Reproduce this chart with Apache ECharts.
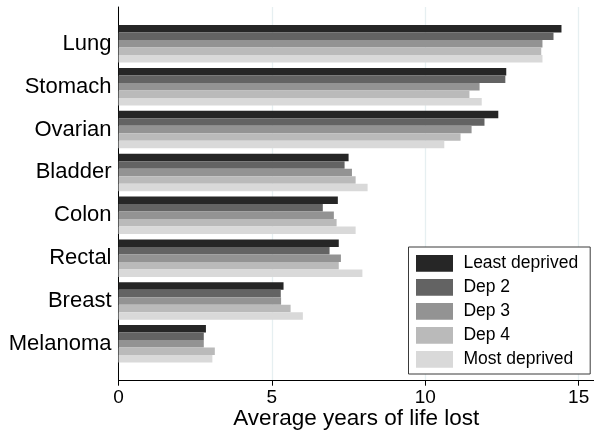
<!DOCTYPE html>
<html>
<head>
<meta charset="utf-8">
<script src="https://cdn.jsdelivr.net/npm/echarts@6/dist/echarts.min.js"></script>
<style>
  html, body { margin: 0; padding: 0; background: #fff; }
  #chart { width: 594px; height: 432px; }
</style>
</head>
<body>
<div id="chart"></div>
<script>
// Cancer sites, top to bottom
const categories = ['Lung', 'Stomach', 'Ovarian', 'Bladder', 'Colon', 'Rectal', 'Breast', 'Melanoma'];

// Average years of life lost by deprivation group
const leastDeprived = [14.44, 12.64, 12.38, 7.50, 7.15, 7.18, 5.38, 2.85];
const dep2          = [14.18, 12.61, 11.93, 7.37, 6.66, 6.88, 5.29, 2.78];
const dep3          = [13.82, 11.77, 11.51, 7.61, 7.02, 7.25, 5.30, 2.78];
const dep4          = [13.78, 11.44, 11.15, 7.73, 7.11, 7.18, 5.61, 3.14];
const mostDeprived  = [13.82, 11.84, 10.62, 8.12, 7.73, 7.95, 6.01, 3.06];

const seriesNames = ['Least deprived', 'Dep 2', 'Dep 3', 'Dep 4', 'Most deprived'];
const seriesData = [leastDeprived, dep2, dep3, dep4, mostDeprived];
const colors = ['#262626', '#636363', '#939393', '#bababa', '#d9d9d9'];

const xTicks = [0, 5, 10, 15];
const xMax = 15.5;

const FONT = 'Liberation Sans, Arial, sans-serif';

const chart = echarts.init(document.getElementById('chart'), null, { renderer: 'canvas' });

chart.setOption({
  backgroundColor: '#ffffff',
  animation: false,
  color: colors,
  grid: [
    // frame: axes, ticks, gridlines
    { left: 118.5, right: 0, top: 7, bottom: 51.3, outerBoundsMode: 'none', containLabel: false },
    // bars (inset vertically inside the frame)
    { left: 118.5, right: 0, top: 22.4, height: 342.9, outerBoundsMode: 'none', containLabel: false }
  ],
  xAxis: [
    {
      gridIndex: 0, type: 'value', min: 0, max: xMax, interval: 5,
      axisLine: { show: true, lineStyle: { color: '#000', width: 1 } },
      axisTick: { show: true, length: 5, lineStyle: { color: '#000' },
        customValues: xTicks },
      axisLabel: {
        color: '#000', fontSize: 19, fontFamily: FONT, margin: 8,
        customValues: xTicks
      },
      splitLine: { show: true, lineStyle: { color: '#e6eff1', width: 1.3 } },
      name: 'Average years of life lost',
      nameLocation: 'middle', nameGap: 27, nameMoveOverlap: false,
      nameTextStyle: { color: '#000', fontSize: 22.5, fontFamily: FONT }
    },
    {
      gridIndex: 1, type: 'value', min: 0, max: xMax,
      show: false, splitLine: { show: false }
    }
  ],
  yAxis: [
    {
      gridIndex: 0, type: 'value', min: 0, max: 1,
      axisLine: { show: true, onZero: false, lineStyle: { color: '#000', width: 1 } },
      axisTick: { show: false }, axisLabel: { show: false }, splitLine: { show: false }
    },
    {
      gridIndex: 1, type: 'category', data: categories, inverse: true,
      axisLine: { show: false }, axisTick: { show: false },
      axisLabel: { color: '#000', fontSize: 22, fontFamily: FONT, margin: 7 },
      splitLine: { show: false }
    }
  ],
  legend: {
    orient: 'vertical',
    left: 408.5, top: 247,
    data: seriesNames,
    backgroundColor: '#fff',
    borderColor: '#3a3a3a', borderWidth: 1,
    padding: [7.4, 12, 5.6, 7.5],
    itemWidth: 37, itemHeight: 16.7, itemGap: 6,
    icon: 'rect',
    textStyle: { color: '#000', fontSize: 17.5, fontFamily: FONT, lineHeight: 16, padding: [0, 0, 0, 5.4] }
  },
  series: seriesNames.map((name, i) => ({
    name,
    type: 'bar',
    xAxisIndex: 1, yAxisIndex: 1,
    data: seriesData[i],
    barGap: 0,
    barCategoryGap: '12.5%',
    itemStyle: { color: colors[i] }
  }))
});
</script>
</body>
</html>
